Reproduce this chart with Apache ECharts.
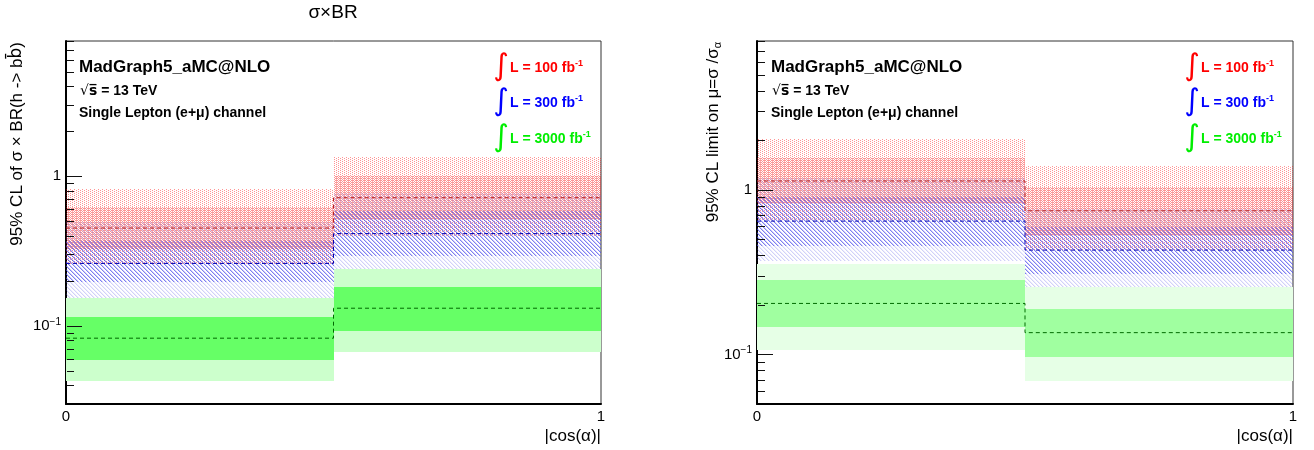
<!DOCTYPE html>
<html>
<head>
<meta charset="utf-8">
<script src="https://cdn.jsdelivr.net/npm/echarts@6/dist/echarts.min.js"></script>
<style>
html,body{margin:0;padding:0;background:#fff;}
#c{width:1314px;height:450px;}
</style>
</head>
<body>
<div id="c"></div>
<script>
// ---------------- data ----------------
const binEdges = [0, 0.5, 1];
// each bin: [-2sigma, -1sigma, median, +1sigma, +2sigma]
const xsec100  = [[0.26, 0.325, 0.45, 0.625, 0.815], [0.40, 0.517, 0.718, 1.0, 1.34]];
const xsec300  = [[0.153, 0.195, 0.261, 0.369, 0.49], [0.241, 0.293, 0.413, 0.585, 0.775]];
const xsec3000 = [[0.043, 0.0594, 0.0826, 0.115, 0.153], [0.0671, 0.0929, 0.131, 0.182, 0.241]];
const mu100  = [[0.657, 0.825, 1.13, 1.55, 2.03], [0.43, 0.534, 0.745, 1.04, 1.40]];
const mu300  = [[0.37, 0.456, 0.645, 0.906, 1.18], [0.226, 0.307, 0.43, 0.59, 0.76]];
const mu3000 = [[0.106, 0.147, 0.204, 0.282, 0.353], [0.0685, 0.0964, 0.1356, 0.188, 0.255]];
const lumiLabels = ['100', '300', '3000'];
const yRangeLeft = [0.03, 8];
const yRangeRight = [0.05, 8];
const majorTicks = [0.1, 1];
const minorTicksLeft = [0.04,0.05,0.06,0.07,0.08,0.09,0.2,0.3,0.4,0.5,0.6,0.7,0.8,0.9,2,3,4,5,6,7,8];
const minorTicksRight = [0.06,0.07,0.08,0.09,0.2,0.3,0.4,0.5,0.6,0.7,0.8,0.9,2,3,4,5,6,7,8];
const xTickLabels = ['0', '1'];

// ---------------- styles ----------------
const FONT = '"Liberation Sans", Arial, Helvetica, sans-serif';
function makeTile(size, pixels) {
  const c = document.createElement('canvas');
  c.width = size; c.height = size;
  const g = c.getContext('2d');
  pixels.forEach(p => { g.fillStyle = p[2]; g.fillRect(p[0], p[1], 1, 1); });
  return { image: c, repeat: 'repeat' };
}
const redOuter = makeTile(4, [[0,0,'rgba(255,0,0,0.42)'],[2,1,'rgba(255,0,0,0.42)'],[0,2,'rgba(255,0,0,0.42)'],[2,3,'rgba(255,0,0,0.42)']]);
const redInner = makeTile(4, [[1,0,'rgba(240,0,0,0.42)'],[3,0,'rgba(240,0,0,0.42)'],[1,2,'rgba(240,0,0,0.42)'],[3,2,'rgba(240,0,0,0.42)'],[0,1,'rgba(240,0,0,0.3)'],[0,3,'rgba(240,0,0,0.3)']]);
const blueOuter = makeTile(4, [[0,0,'rgba(90,90,235,0.28)'],[1,1,'rgba(90,90,235,0.28)'],[2,2,'rgba(90,90,235,0.28)'],[3,3,'rgba(90,90,235,0.28)'],
  [1,0,'rgba(90,90,235,0.1)'],[2,1,'rgba(90,90,235,0.1)'],[3,2,'rgba(90,90,235,0.1)'],[0,3,'rgba(90,90,235,0.1)']]);
const blueInner = makeTile(4, [[0,0,'rgba(70,70,235,0.6)'],[1,1,'rgba(70,70,235,0.6)'],[2,2,'rgba(70,70,235,0.6)'],[3,3,'rgba(70,70,235,0.6)'],
  [1,0,'rgba(70,70,235,0.2)'],[2,1,'rgba(70,70,235,0.2)'],[3,2,'rgba(70,70,235,0.2)'],[0,3,'rgba(70,70,235,0.2)']]);
const greenLeft = ['#ccffcc', '#66ff66'];
const greenRight = ['#e6ffe6', '#a0ffa0'];
const medColors = ['#b82020', '#0000b0', '#006a00'];

// ---------------- builders ----------------
function bandData(vals, outer) {
  return vals.map((v, i) => [binEdges[i], binEdges[i+1], outer ? v[0] : v[1], outer ? v[4] : v[3]]);
}
function bandSeries(grid, vals, outer, fill, z) {
  return {
    type: 'custom', xAxisIndex: grid, yAxisIndex: grid, z: z, silent: true,
    encode: { x: [0, 1], y: [2, 3] },
    data: bandData(vals, outer),
    renderItem: function (params, api) {
      const a = api.coord([api.value(0), api.value(3)]);
      const b = api.coord([api.value(1), api.value(2)]);
      return { type: 'rect', shape: { x: Math.round(a[0]), y: Math.round(a[1]), width: Math.round(b[0]) - Math.round(a[0]), height: Math.round(b[1]) - Math.round(a[1]) }, style: { fill: fill } };
    }
  };
}
function medianSeries(grid, vals, color) {
  const pts = vals.map((v, i) => [binEdges[i], v[2]]);
  pts.push([binEdges[binEdges.length - 1], vals[vals.length - 1][2]]);
  return {
    type: 'line', xAxisIndex: grid, yAxisIndex: grid, z: 20, silent: true, step: 'end',
    showSymbol: false, symbol: 'none', data: pts,
    lineStyle: { color: color, width: 1, type: [4, 3] }
  };
}
function tickSeries(grid, minors) {
  const data = majorTicks.map(v => [0, v, 16]).concat(minors.map(v => [0, v, 8]));
  return {
    type: 'custom', xAxisIndex: grid, yAxisIndex: grid, z: 30, silent: true,
    encode: { x: 0, y: 1 },
    data: data,
    renderItem: function (params, api) {
      const p = api.coord([api.value(0), api.value(1)]);
      const y = Math.round(p[1]) + 0.5;
      return { type: 'line', shape: { x1: p[0] + 1, y1: y, x2: p[0] + api.value(2), y2: y }, style: { stroke: '#111', lineWidth: 1 } };
    }
  };
}
function yLabelFmt(v) {
  if (Math.abs(v - 1) < 1e-9) return '1';
  if (Math.abs(v - 0.1) < 1e-9) return '{a|10}{b|\u22121}';
  return '';
}
function yAxis(grid, range) {
  return {
    type: 'log', logBase: 10, gridIndex: grid, min: range[0], max: range[1],
    axisLine: { show: true, lineStyle: { color: '#000', width: 2 } },
    axisTick: { show: false }, splitLine: { show: false }, minorTick: { show: false },
    axisLabel: { show: true, formatter: yLabelFmt, color: '#000', fontSize: 15, fontFamily: FONT, margin: 5,
      showMinLabel: false, showMaxLabel: false,
      rich: { a: { fontSize: 15, fontFamily: FONT, color: '#000', lineHeight: 18 }, b: { fontSize: 10, fontFamily: FONT, color: '#000', verticalAlign: 'top', lineHeight: 12 } } }
  };
}
function xAxis(grid) {
  return {
    type: 'value', gridIndex: grid, min: 0, max: 1, interval: 1,
    axisLine: { show: true, onZero: false, lineStyle: { color: '#000', width: 2 } },
    axisTick: { show: false }, splitLine: { show: false },
    axisLabel: { color: '#000', fontSize: 15, fontFamily: FONT, margin: 5, formatter: v => xTickLabels[Math.round(v)] }
  };
}
function panelSeries(grid, sets, greens, minors) {
  const s = [];
  s.push(bandSeries(grid, sets[0], true, redOuter, 2));
  s.push(bandSeries(grid, sets[0], false, redInner, 3));
  s.push(bandSeries(grid, sets[1], true, blueOuter, 4));
  s.push(bandSeries(grid, sets[1], false, blueInner, 5));
  s.push(bandSeries(grid, sets[2], true, greens[0], 6));
  s.push(bandSeries(grid, sets[2], false, greens[1], 7));
  sets.forEach((v, i) => s.push(medianSeries(grid, v, medColors[i])));
  s.push(tickSeries(grid, minors));
  return s;
}

// ---------------- text overlay ----------------
const lumiColors = ['#ff0000', '#0000ff', '#00ee00'];
function textBlock(x0, legendX) {
  const els = [
    { type: 'text', x: x0, y: 67, style: { text: 'MadGraph5_aMC@NLO', fontSize: 17, fontWeight: 'bold', fontFamily: FONT, fill: '#000', textVerticalAlign: 'middle' } },
    { type: 'text', x: x0 + 1, y: 91, style: { text: '{r|\u221A}{o|s\u0305}{t| = 13 TeV}', textVerticalAlign: 'middle',
        rich: { r: { fontSize: 14, fontFamily: '"DejaVu Sans", sans-serif', color: '#000' },
                o: { fontSize: 14, fontWeight: 'bold', fontFamily: '"DejaVu Sans", sans-serif', color: '#000' },
                t: { fontSize: 14, fontWeight: 'bold', fontFamily: FONT, color: '#000' } } } },
    { type: 'text', x: x0, y: 113, style: { text: 'Single Lepton (e+\u03BC) channel', fontSize: 14, fontWeight: 'bold', fontFamily: FONT, fill: '#000', textVerticalAlign: 'middle' } }
  ];
  const ys = [68, 103.5, 139.5];
  lumiLabels.forEach((l, i) => {
    els.push({ type: 'text', x: legendX, y: ys[i] - 1, style: { text: '\u222B', fontSize: 30, fontFamily: '"DejaVu Sans", sans-serif', fill: lumiColors[i], textAlign: 'center', textVerticalAlign: 'middle' } });
    els.push({ type: 'text', x: legendX + 9, y: ys[i], style: {
      text: '{t|L = ' + l + ' fb}{s|-1}', textVerticalAlign: 'middle',
      rich: { t: { fontSize: 14, fontWeight: 'bold', fontFamily: FONT, fill: lumiColors[i], color: lumiColors[i], lineHeight: 18 },
              s: { fontSize: 9, fontWeight: 'bold', fontFamily: FONT, fill: lumiColors[i], color: lumiColors[i], verticalAlign: 'top', lineHeight: 10 } } } });
  });
  return els;
}
const graphics = [
  { type: 'text', x: 333, y: 13, style: { text: '\u03C3\u00D7BR', fontSize: 19, fontFamily: FONT, fill: '#000', textAlign: 'center', textVerticalAlign: 'middle' } },
  { type: 'text', x: 17, y: 42, rotation: Math.PI / 2, style: { text: '{m|95% CL of \u03C3 \u00D7 BR(h -> b}{o|b\u0304}{m|)}', textAlign: 'right', textVerticalAlign: 'middle',
      rich: { m: { fontSize: 17, fontFamily: FONT, color: '#000' }, o: { fontSize: 17, fontFamily: '"DejaVu Sans", sans-serif', color: '#000' } } } },
  { type: 'text', x: 713, y: 42, rotation: Math.PI / 2, style: { text: '{m|95% CL limit on \u03BC=\u03C3 /\u03C3}{s|\u03B1}', textAlign: 'right', textVerticalAlign: 'middle',
      rich: { m: { fontSize: 17, fontFamily: FONT, color: '#000', lineHeight: 20 }, s: { fontSize: 11, fontFamily: FONT, color: '#000', verticalAlign: 'bottom', lineHeight: 14 } } } },
  { type: 'text', x: 601, y: 436, style: { text: '|cos(\u03B1)|', fontSize: 17, fontFamily: FONT, fill: '#000', textAlign: 'right', textVerticalAlign: 'middle' } },
  { type: 'text', x: 1293, y: 436, style: { text: '|cos(\u03B1)|', fontSize: 17, fontFamily: FONT, fill: '#000', textAlign: 'right', textVerticalAlign: 'middle' } }
].concat(textBlock(79, 501)).concat(textBlock(771, 1192));

const chart = echarts.init(document.getElementById('c'), null, { renderer: 'canvas' });
chart.setOption({
  animation: false,
  backgroundColor: '#fff',
  grid: [
    { left: 66, top: 41, width: 535, height: 363, show: true, borderColor: '#333', borderWidth: 1, backgroundColor: 'transparent' },
    { left: 757, top: 41, width: 536, height: 363, show: true, borderColor: '#333', borderWidth: 1, backgroundColor: 'transparent' }
  ],
  xAxis: [xAxis(0), xAxis(1)],
  yAxis: [yAxis(0, yRangeLeft), yAxis(1, yRangeRight)],
  series: panelSeries(0, [xsec100, xsec300, xsec3000], greenLeft, minorTicksLeft)
    .concat(panelSeries(1, [mu100, mu300, mu3000], greenRight, minorTicksRight)),
  graphic: graphics
});
</script>
</body>
</html>
